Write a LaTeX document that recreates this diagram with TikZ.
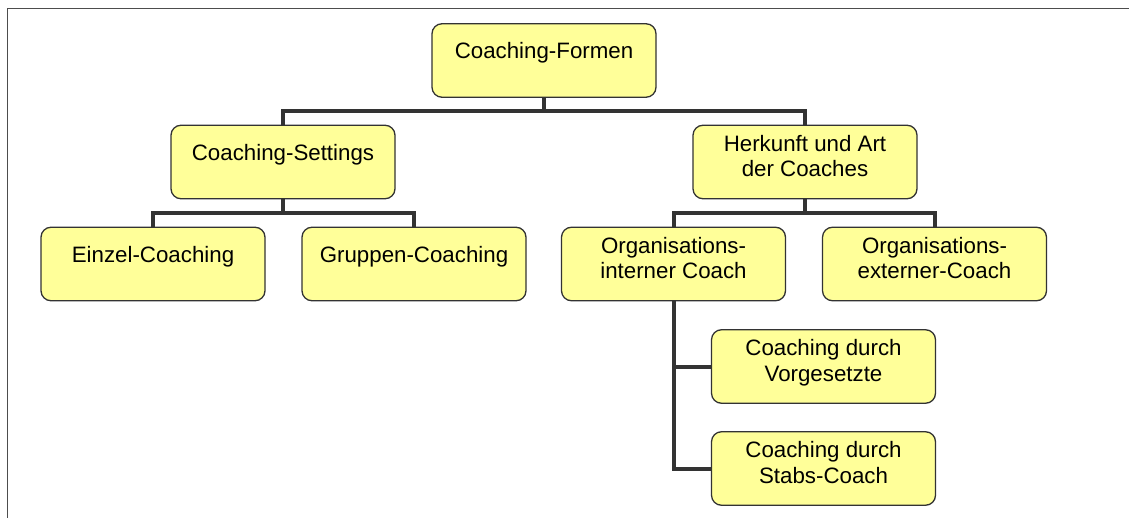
\documentclass[tikz,border=0pt]{standalone}
\usepackage{fontspec}
\setmainfont{Liberation Sans}
\definecolor{boxfill}{HTML}{FFFF99}
\definecolor{linec}{HTML}{333333}
\definecolor{framec}{HTML}{4D4D4D}
\newcommand{\twolines}[2]{\begin{tabular}[t]{@{}c@{}}#1\\#2\end{tabular}}
\begin{document}
\begin{tikzpicture}[x=1pt,y=-1pt,
  box/.style={draw=linec, fill=boxfill, line width=1.3pt, rounded corners=10pt,
    minimum width=224pt, inner ysep=0pt, inner xsep=0pt,
    font=\fontsize{22.3}{25.5}\selectfont},
  onel/.style={box, text height=35pt, text depth=38.5pt},
  twol/.style={box, text height=26pt, text depth=47.5pt},
  conn/.style={draw=linec, line width=4pt}]
\setlength{\tabcolsep}{0pt}
\renewcommand{\arraystretch}{1}
\useasboundingbox (0,0) rectangle (1129,518);
\draw[framec, line width=1.5pt] (1129,8.3) -- (7.3,8.3) -- (7.3,518);

\node[onel] (formen)   at (544,60.5)   {Coaching-Formen};
\node[onel] (settings) at (283,162)    {Coaching-Settings};
\node[twol] (herkunft) at (805,162)    {\twolines{Herkunft und Art}{der Coaches}};
\node[onel] (einzel)   at (153,264)    {Einzel-Coaching};
\node[onel] (gruppen)  at (414,264)    {Gruppen-Coaching};
\node[twol] (intern)   at (673.5,264)  {\twolines{Organisations-}{interner Coach}};
\node[twol] (extern)   at (934.5,264)  {\twolines{Organisations-}{externer-Coach}};
\node[twol] (vorg)     at (823.5,366.5){\twolines{Coaching durch}{Vorgesetzte}};
\node[twol] (stabs)    at (823.5,468.5){\twolines{Coaching durch}{Stabs-Coach}};

\draw[conn] (formen.south) -- ++(0,15);
\draw[conn] (settings.north) -- ++(0,-14) -| (herkunft.north);
\draw[conn] (einzel.north) -- ++(0,-14) -| (gruppen.north);
\draw[conn] (settings.south) -- ++(0,15);
\draw[conn] (intern.north) -- ++(0,-14) -| (extern.north);
\draw[conn] (herkunft.south) -- ++(0,15);
\draw[conn] (intern.south) |- (vorg.west);
\draw[conn] (intern.south) |- (stabs.west);
\end{tikzpicture}
\end{document}
